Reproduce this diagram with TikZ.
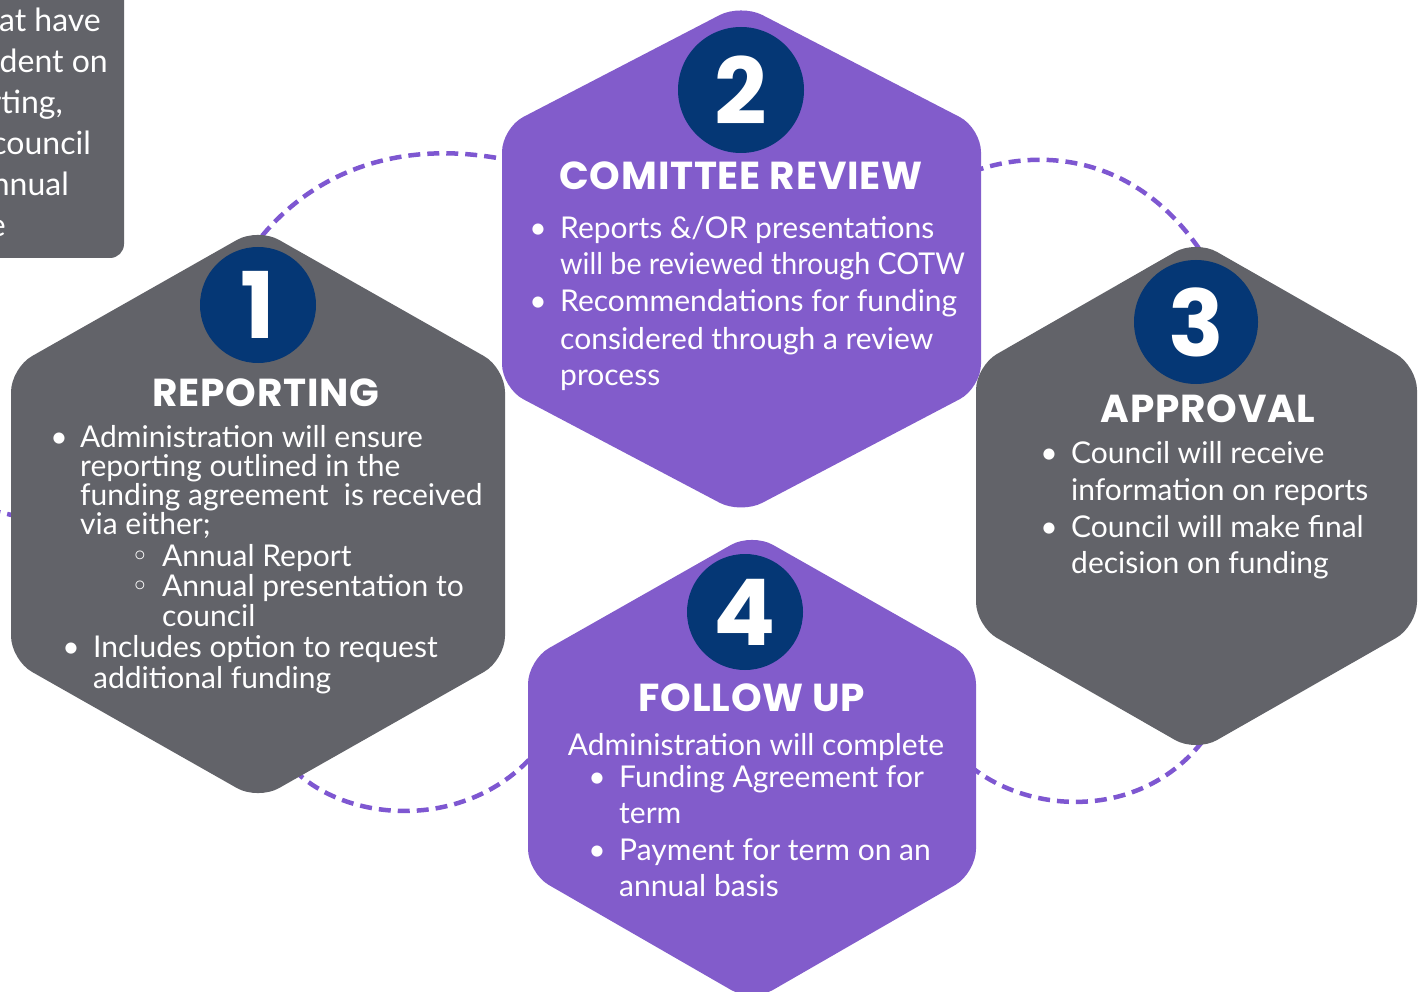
\documentclass[tikz,border=0pt]{standalone}
\usepackage{fontspec}
\setmainfont{Lato}
\newfontfamily\titlefont{Poppins}[LetterSpace=2]
\newfontfamily\numfont{Poppins}
\newfontfamily\symfont{DejaVu Sans}
\definecolor{hexgray}{HTML}{626369}
\definecolor{hexpurple}{HTML}{825CCB}
\definecolor{navy}{HTML}{053775}
\definecolor{dashpurple}{HTML}{7E57D1}
\tikzset{
  hexgrayfill/.style={fill=hexgray, rounded corners=24pt},
  hexpurplefill/.style={fill=hexpurple, rounded corners=24pt},
  numcircle/.style={circle, fill=navy, inner sep=0pt},
  numtext/.style={text=white, font=\numfont\bfseries\fontsize{92}{92}\selectfont, inner sep=0pt},
  titletext/.style={text=white, font=\titlefont\bfseries\fontsize{39}{40}\selectfont, inner sep=0pt, anchor=base},
  bodyline/.style={text=white, font=\fontsize{30}{36}\selectfont, inner sep=0pt, anchor=base west},
  bulletdot/.style={text=white, font=\fontsize{30}{36}\selectfont, inner sep=0pt, anchor=base},
  subbullet/.style={text=white, font=\symfont\fontsize{30}{30}\selectfont, inner sep=0pt, anchor=base},
  boxtext/.style={text=white, font=\fontsize{32}{41}\selectfont, inner sep=0pt, anchor=base east},
  flow/.style={draw=dashpurple, line width=4.5pt, dash pattern=on 12pt off 7pt}
}
\begin{document}
\begin{tikzpicture}[x=1pt,y=-1pt]
\useasboundingbox (0,0) rectangle (1422,992);

% connector end points
\coordinate (a1) at (262,236);
\coordinate (a2) at (508,160);
\coordinate (b1) at (972,172);
\coordinate (b2) at (1200,250);
\coordinate (c1) at (294,770);
\coordinate (c2) at (536,752);
\coordinate (d1) at (970,766);
\coordinate (d2) at (1202,742);
\coordinate (e1) at (-30,506);
\coordinate (e2) at (16,516);

% dashed connectors (behind)
\draw[flow] (a1) .. controls (315,172) and (400,138) .. (a2);
\draw[flow] (b1) .. controls (1030,150) and (1130,148) .. (b2);
\draw[flow] (c1) .. controls (350,825) and (470,830) .. (c2);
\draw[flow] (d1) .. controls (1030,815) and (1140,820) .. (d2);
\draw[flow] (e1) .. controls (-10,510) .. (e2);

% top-left text box
\fill[hexgray, rounded corners=14pt] (-30,-30) rectangle (124,258);
\node[boxtext] (bt1) at (101,32) {at have};
\node[boxtext] (bt2) at (108,73) {dent on};
\node[boxtext] (bt3) at (63,114) {rting,};
\node[boxtext] (bt4) at (91,155) {council};
\node[boxtext] (bt5) at (69,196) {nnual};
\node[boxtext] (bt6) at (6,237) {e};

% hexagons
\fill[hexgrayfill] (258,228) -- (505,368) -- (505,660) -- (258,800) -- (11,660) -- (11,368) -- cycle;
\fill[hexgrayfill] (1196,240) -- (1417,366) -- (1417,626) -- (1196,752) -- (976,626) -- (976,366) -- cycle;
\fill[hexpurplefill] (741,4) -- (981,128) -- (981,388) -- (741,514) -- (502,388) -- (502,128) -- cycle;
\fill[hexpurplefill] (752,533) -- (976,660) -- (976,873) -- (752,1002) -- (528,873) -- (528,660) -- cycle;

% number circles
\node[numcircle, minimum size=116pt] (n1) at (258,305) {};
\node[numtext] at (n1) {1};
\node[numcircle, minimum size=126pt] (n2) at (741,90) {};
\node[numtext] at (n2) {2};
\node[numcircle, minimum size=124pt] (n3) at (1196,322) {};
\node[numtext] at (n3) {3};
\node[numcircle, minimum size=116pt] (n4) at (745,612) {};
\node[numtext] at (n4) {4};

% 1 REPORTING
\node[titletext] (t1) at (266,406) {REPORTING};
\node[bulletdot] (b1a) at (59,447) {•};
\node[bodyline] (l1a) at (80,447) {Administration will ensure};
\node[bodyline] (l1b) at (80,476) {reporting outlined in the};
\node[bodyline] (l1c) at (80,505) {funding agreement\ \ is received};
\node[bodyline] (l1d) at (80,534) {via either;};
\node[subbullet] (s1a) at (140,566) {◦};
\node[bodyline] (l1e) at (162,566) {Annual Report};
\node[subbullet] (s1b) at (140,596) {◦};
\node[bodyline] (l1f) at (162,596) {Annual presentation to};
\node[bodyline] (l1g) at (162,626) {council};
\node[bulletdot] (b1b) at (71,657) {•};
\node[bodyline] (l1h) at (93,657) {Includes option to request};
\node[bodyline] (l1i) at (93,688) {additional funding};

% 2 COMITTEE REVIEW
\node[titletext] (t2) at (741,190) {COMITTEE REVIEW};
\node[bulletdot] (b2a) at (538,239) {•};
\node[bodyline] (l2a) at (560,239) {Reports \&/OR presentations};
\node[bodyline] (l2b) at (560,275) {\scalebox{0.955}[1]{will be reviewed through COTW}};
\node[bulletdot] (b2b) at (538,312) {•};
\node[bodyline] (l2c) at (560,312) {Recommendations for funding};
\node[bodyline] (l2d) at (560,349) {considered through a review};
\node[bodyline] (l2e) at (560,385) {process};

% 3 APPROVAL
\node[titletext] (t3) at (1208,422) {APPROVAL};
\node[bulletdot] (b3a) at (1049,463) {•};
\node[bodyline] (l3a) at (1071,463) {Council will receive};
\node[bodyline] (l3b) at (1071,500) {information on reports};
\node[bulletdot] (b3b) at (1049,537) {•};
\node[bodyline] (l3c) at (1071,537) {Council will make final};
\node[bodyline] (l3d) at (1071,573) {decision on funding};

% 4 FOLLOW UP
\node[titletext] (t4) at (752,711) {FOLLOW UP};
\node[bodyline, anchor=base] (l4) at (756,755) {Administration will complete};
\node[bulletdot] (b4a) at (597,787) {•};
\node[bodyline] (l4a) at (619,787) {Funding Agreement for};
\node[bodyline] (l4b) at (619,823) {term};
\node[bulletdot] (b4b) at (597,860) {•};
\node[bodyline] (l4c) at (619,860) {Payment for term on an};
\node[bodyline] (l4d) at (619,896) {annual basis};
\end{tikzpicture}
\end{document}
